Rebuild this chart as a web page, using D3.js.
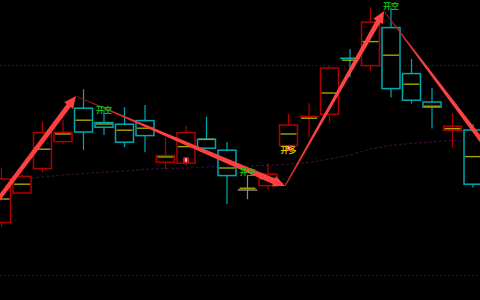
<!DOCTYPE html>
<html><head><meta charset="utf-8">
<script src="https://cdn.jsdelivr.net/npm/d3@7"></script>
<style>html,body{margin:0;padding:0;background:#000;overflow:hidden}</style>
</head><body>
<svg id="c" width="480" height="300"></svg>
<script>
// ---- data ----
const opens  = [3888.7,3903.5,3915.7,3929.2,3945.9,3938.7,3937.9,3939.7,3918.9,3918.4,3930.4,3924.9,3905.0,3907.2,3927.2,3941.7,3942.9,3970.9,3967.2,3986.2,3963.2,3949.0,3934.9,3935.0];
const highs  = [3916.0,3912.8,3939.2,3940.0,3955.4,3945.0,3946.4,3947.5,3931.2,3937.0,3941.7,3929.0,3912.5,3918.4,3943.0,3948.4,3967.0,3975.5,3996.4,3996.0,3970.5,3956.0,3943.5,3937.9];
const lows   = [3886.5,3903.0,3913.7,3927.9,3925.0,3932.5,3926.4,3923.9,3915.3,3917.0,3925.9,3898.0,3900.4,3905.0,3927.0,3931.2,3938.7,3961.4,3964.5,3951.2,3948.2,3935.7,3926.2,3906.2];
const closes = [3910.5,3911.8,3933.7,3933.8,3934.0,3936.4,3928.9,3932.2,3922.2,3933.7,3925.9,3912.2,3905.0,3912.9,3937.5,3941.8,3966.0,3970.8,3988.9,3955.7,3949.9,3946.4,3936.9,3907.9];
const avgs   = [3900.5,3907.9,3925.4,3933.0,3939.9,3938.0,3934.9,3935.9,3921.5,3926.7,3930.3,3916.0,3905.9,3910.7,3933.0,3940.9,3953.5,3969.9,3979.2,3972.4,3957.9,3946.9,3935.7,3921.7];
const maLine = [3909.8,3910.5,3911.5,3912.5,3913.3,3914.0,3914.5,3915.3,3915.8,3916.0,3916.5,3916.9,3917.0,3917.3,3917.8,3918.8,3920.5,3922.5,3925.5,3927.3,3928.3,3929.0,3929.8,3928.8];
const gridLevels = [3967.2, 3862.2];
const zigIdx   = [-1.05, 3.63, 13.83, 18.66, 24.32];
const zigPrice = [3888.2, 3952.0, 3907.0, 3994.5, 3917.5];
const dotIdx   = [9, 14];
const dotPrice = [3920.0, 3926.0];
const labelIdx   = [5, 12, 19, 14];
const labelPrice = [3945.5, 3914.5, 3997.5, 3925.5];
const labelText  = ["开空", "开空", "开空", "开多"];

// ---- scales ----
const W = 480, H = 300;
const x = d3.scaleLinear().domain([0, 23]).range([1.5, 473]);
const y = d3.scaleLinear().domain([3850, 4000]).range([300, 0]);
const svg = d3.select("#c");
svg.append("rect").attr("width", W).attr("height", H).attr("fill", "#000");

const RED = "#b00000", CYAN = "#00a8b0", GRAY = "#8c8c8c", YEL = "#a8a400";
const bw = 18;

// grid
svg.selectAll("line.grid").data(gridLevels).enter().append("line")
  .attr("x1", 0).attr("x2", W)
  .attr("y1", d => y(d)).attr("y2", d => y(d))
  .attr("stroke", "#700a0a").attr("stroke-width", 1).attr("stroke-dasharray", "1.5,2.5");

// moving average
svg.append("path")
  .attr("d", d3.line().x((d, i) => x(i)).y(d => y(d))(maLine))
  .attr("fill", "none").attr("stroke", "#360e33").attr("stroke-width", 1.2)
  .attr("stroke-dasharray", "3,2");

// candles
const candles = d3.range(opens.length).map(i => ({
  i, o: opens[i], h: highs[i], l: lows[i], c: closes[i], a: avgs[i]
}));
const col = d => d.c > d.o ? RED : d.c < d.o ? CYAN : GRAY;
const g = svg.append("g");
g.selectAll("line.wick").data(candles).enter().append("line")
  .attr("x1", d => x(d.i)).attr("x2", d => x(d.i))
  .attr("y1", d => y(d.h)).attr("y2", d => y(d.l))
  .attr("stroke", col).attr("stroke-width", 1.2);
g.selectAll("rect.body").data(candles).enter().append("rect")
  .attr("x", d => x(d.i) - bw / 2)
  .attr("width", bw)
  .attr("y", d => y(Math.max(d.o, d.c)))
  .attr("height", d => Math.max(0.01, Math.abs(y(d.o) - y(d.c))))
  .attr("fill", "#000").attr("stroke", col).attr("stroke-width", 1.5);
g.selectAll("line.avg").data(candles).enter().append("line")
  .attr("x1", d => x(d.i) - bw / 2 + 1).attr("x2", d => x(d.i) + bw / 2 - 1)
  .attr("y1", d => y(d.a)).attr("y2", d => y(d.a))
  .attr("stroke", YEL).attr("stroke-width", 1.4);

// arrows (tapered)
const defs = svg.append("defs");
const arrowSpec = [
  {w0: 4, w1: 5, c0: "#ff3c3c", c1: "#ff4040"},
  {w0: 0.8, w1: 6, c0: "#8a1616", c1: "#ff4040"},
  {w0: 1.2, w1: 5, c0: "#e02a2a", c1: "#ff4444"},
  {w0: 0.8, w1: 5, c0: "#8a1616", c1: "#ff4040"}
];
for (let k = 0; k < zigIdx.length - 1; k++) {
  const p0 = [x(zigIdx[k]), y(zigPrice[k])];
  const p1 = [x(zigIdx[k + 1]), y(zigPrice[k + 1])];
  const s = arrowSpec[k];
  const dx = p1[0] - p0[0], dy = p1[1] - p0[1];
  const len = Math.hypot(dx, dy);
  const u = [dx / len, dy / len], n = [-u[1], u[0]];
  const hl = 12, hw = 11;
  const b = [p1[0] - u[0] * hl, p1[1] - u[1] * hl];
  const P = (p, s2) => [p[0] + n[0] * s2, p[1] + n[1] * s2];
  const pts = [P(p0, s.w0 / 2), P(b, s.w1 / 2), P(b, hw / 2), p1,
               P(b, -hw / 2), P(b, -s.w1 / 2), P(p0, -s.w0 / 2)];
  const gid = "ag" + k;
  const lg = defs.append("linearGradient").attr("id", gid)
    .attr("gradientUnits", "userSpaceOnUse")
    .attr("x1", p0[0]).attr("y1", p0[1]).attr("x2", p1[0]).attr("y2", p1[1]);
  lg.append("stop").attr("offset", "0").attr("stop-color", s.c0);
  lg.append("stop").attr("offset", "0.35").attr("stop-color", s.c1);
  lg.append("stop").attr("offset", "1").attr("stop-color", s.c1);
  svg.append("path")
    .attr("d", "M" + pts.map(p => p.join(",")).join("L") + "Z")
    .attr("fill", "url(#" + gid + ")");
}

// signal dots
svg.selectAll("rect.dot").data(dotIdx).enter().append("rect")
  .attr("x", d => x(d) - 3).attr("y", (d, i) => y(dotPrice[i]) - 3)
  .attr("width", 6).attr("height", 6).attr("rx", 1.5)
  .attr("fill", "#e01414");
svg.selectAll("rect.dotc").data(dotIdx).enter().append("rect")
  .attr("x", d => x(d) - 1).attr("y", (d, i) => y(dotPrice[i]) - 1.5)
  .attr("width", 2).attr("height", 3)
  .attr("fill", "#ffc8c8");

// labels
svg.selectAll("text.lab").data(labelIdx).enter().append("text")
  .attr("x", d => x(d)).attr("y", (d, i) => y(labelPrice[i]))
  .attr("text-anchor", "middle").attr("dominant-baseline", "central")
  .attr("font-family", "'Noto Sans CJK SC', sans-serif")
  .attr("font-size", 8).attr("font-weight", "bold")
  .attr("fill", (d, i) => labelText[i] === "开多" ? "#d8c000" : "#10b810")
  .text((d, i) => labelText[i]);
</script>
</body></html>
